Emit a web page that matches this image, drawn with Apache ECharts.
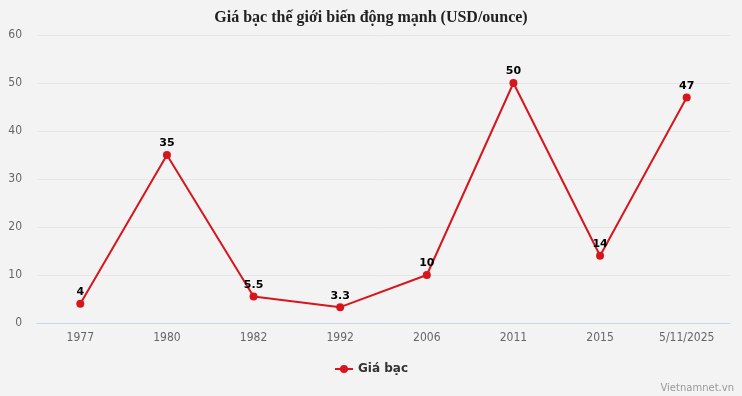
<!DOCTYPE html>
<html><head><meta charset="utf-8">
<script src="https://cdn.jsdelivr.net/npm/echarts@6/dist/echarts.min.js"></script>
<style>html,body{margin:0;padding:0;background:#f3f3f3}#c{width:742px;height:396px}</style>
</head><body><div id="c"></div>
<script>
const categories = ['1977','1980','1982','1992','2006','2011','2015','5/11/2025'];
const values = [4, 35, 5.5, 3.3, 10, 50, 14, 47];
const seriesName = 'Giá bạc';
const titleText = 'Giá bạc thế giới biến động mạnh (USD/ounce)';
const chart = echarts.init(document.getElementById('c'));
chart.setOption({
  backgroundColor: '#f3f3f3',
  animation: false,
  title: [{
    text: titleText, left: 'center', top: 5,
    textStyle: { fontFamily: 'Liberation Serif', fontWeight: 'bold', fontSize: 16, color: '#222' }
  }, {
    text: 'Vietnamnet.vn', right: 3, bottom: -2,
    textStyle: { fontFamily: 'DejaVu Sans', fontWeight: 'normal', fontSize: 10, color: '#999' }
  }],
  legend: {
    data: [seriesName], bottom: 16, left: 'center', itemWidth: 18, itemHeight: 10,
    textStyle: { fontFamily: 'DejaVu Sans', fontWeight: 'bold', fontSize: 12, color: '#333' }
  },
  grid: { left: 37, right: 12, top: 35, bottom: 73 },
  xAxis: {
    type: 'category', data: categories, boundaryGap: true,
    axisLine: { lineStyle: { color: '#ccd6eb' } },
    axisTick: { show: false },
    axisLabel: { color: '#666', fontSize: 12, fontFamily: 'DejaVu Sans Condensed', margin: 9 }
  },
  yAxis: {
    type: 'value', min: 0, max: 60, interval: 10,
    axisLabel: { color: '#666', fontSize: 12, fontFamily: 'DejaVu Sans Condensed', margin: 15 },
    splitLine: { lineStyle: { color: '#e6e6e6' } },
    axisLine: { show: false }, axisTick: { show: false }
  },
  series: [{
    name: seriesName, type: 'line', data: values,
    symbol: 'circle', symbolSize: 8,
    lineStyle: { color: '#d7151d', width: 2 },
    itemStyle: { color: '#d7151d' },
    label: { show: true, position: 'top', distance: 2, color: '#000', fontWeight: 'bold', fontSize: 11, fontFamily: 'DejaVu Sans' }
  }]
});
</script></body></html>
